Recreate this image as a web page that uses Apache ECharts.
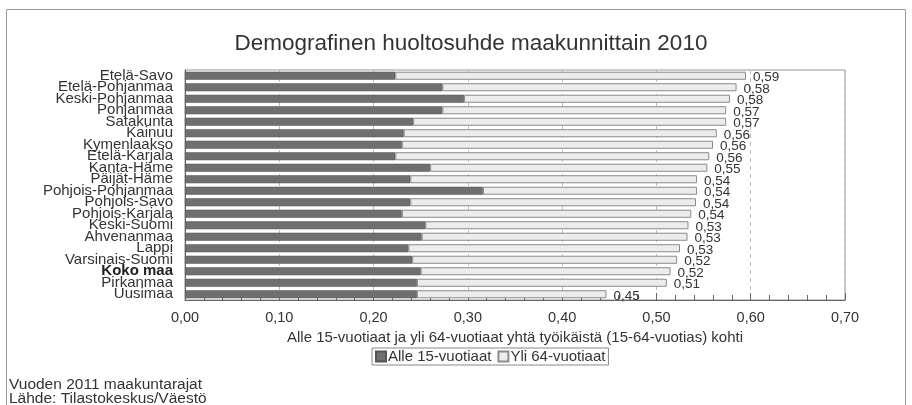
<!DOCTYPE html>
<html>
<head>
<meta charset="utf-8">
<script src="https://cdn.jsdelivr.net/npm/echarts@6/dist/echarts.min.js"></script>
<style>html,body{margin:0;padding:0;background:#fff}#c{width:912px;height:405px}</style>
</head>
<body>
<div id="c"></div>
<script>
const categories = ["Etelä-Savo","Etelä-Pohjanmaa","Keski-Pohjanmaa","Pohjanmaa","Satakunta","Kainuu","Kymenlaakso","Etelä-Karjala","Kanta-Häme","Päijät-Häme","Pohjois-Pohjanmaa","Pohjois-Savo","Pohjois-Karjala","Keski-Suomi","Ahvenanmaa","Lappi","Varsinais-Suomi","Koko maa","Pirkanmaa","Uusimaa"];
const alle15 = [0.223,0.273,0.296,0.273,0.242,0.232,0.230,0.223,0.260,0.239,0.316,0.239,0.230,0.255,0.251,0.237,0.241,0.250,0.246,0.246];
const yli64 = [0.372,0.312,0.282,0.301,0.332,0.332,0.330,0.333,0.294,0.304,0.227,0.303,0.307,0.279,0.282,0.288,0.281,0.265,0.265,0.201];
const totalLabels = ["0,59","0,58","0,58","0,57","0,57","0,56","0,56","0,56","0,55","0,54","0,54","0,54","0,54","0,53","0,53","0,53","0,52","0,52","0,51","0,45"];
const xTicks = ["0,00","0,10","0,20","0,30","0,40","0,50","0,60","0,70"];
const seriesNames = ["Alle 15-vuotiaat","Yli 64-vuotiaat"];
const titleText = "Demografinen huoltosuhde maakunnittain 2010";
const axisName = "Alle 15-vuotiaat ja yli 64-vuotiaat yhtä työikäistä (15-64-vuotias) kohti";
const notes = ["Vuoden 2011 maakuntarajat","Lähde: Tilastokeskus/Väestö"];

const chart = echarts.init(document.getElementById('c'), null, {renderer:'canvas'});
const FONT = 'Liberation Sans, Arial, sans-serif';
chart.setOption({
  animation:false,
  backgroundColor:'#fff',
  textStyle:{fontFamily:FONT},
  graphic:[
    {type:'rect', shape:{x:6.5,y:9.5,width:899,height:420}, style:{fill:'none',stroke:'#9a9a9a',lineWidth:1}, silent:true},
    {type:'text', x:471, y:44, style:{text:titleText, fontSize:22.5, fontFamily:FONT, fill:'#333', textAlign:'center', textVerticalAlign:'middle'}},
    {type:'text', x:9, y:385, style:{text:notes[0], fontSize:15.5, fontFamily:FONT, fill:'#333', textVerticalAlign:'middle'}},
    {type:'text', x:9, y:399, style:{text:notes[1], fontSize:15.5, fontFamily:FONT, fill:'#333', textVerticalAlign:'middle'}}
  ],
  legend:{
    data:seriesNames, left:372, top:348, itemWidth:10, itemHeight:10, itemGap:6,
    borderColor:'#888', borderWidth:1, padding:[1,3,1,3],
    textStyle:{fontSize:15, color:'#333', fontFamily:FONT, padding:[0,0,0,-3]},
    icon:'rect'
  },
  grid:{left:185, right:67, top:70, bottom:105, show:true, borderColor:'#999', borderWidth:1},
  xAxis:{
    type:'value', min:0, max:0.7, interval:0.1,
    axisLine:{show:true, lineStyle:{color:'#666'}},
    axisTick:{show:true, inside:true, length:7, lineStyle:{color:'#666'}},
    minorTick:{show:true, splitNumber:5, length:5, lineStyle:{color:'#666'}},
    splitLine:{show:true, lineStyle:{color:'#bdbdbd', type:[4,4]}},
    axisLabel:{fontSize:14.5, color:'#333', margin:10, formatter:(v)=>xTicks[Math.round(v*10)]},
    name:axisName, nameLocation:'middle', nameGap:28,
    nameTextStyle:{fontSize:15, color:'#333'}
  },
  yAxis:{
    type:'category', data:categories, inverse:true,
    axisLine:{show:true, lineStyle:{color:'#666'}},
    axisTick:{show:false},
    axisLabel:{
      interval:0,
      fontSize:15, color:'#333', margin:12, lineHeight:11,
      formatter:(v)=> v==='Koko maa' ? '{b|'+v+'}' : v,
      rich:{b:{fontWeight:'bold', fontSize:15, color:'#222', lineHeight:11}}
    }
  },
  series:[
    {name:seriesNames[0], type:'bar', stack:'s', data:alle15, barWidth:'70%',
     itemStyle:{color:'#6f6f6f', borderColor:'#555', borderWidth:0.5}},
    {name:seriesNames[1], type:'bar', stack:'s', data:yli64, barWidth:'70%',
     itemStyle:{color:'#ececec', borderColor:'#8a8a8a', borderWidth:1},
     label:{show:true, position:'right', distance:7, fontSize:13.5, color:'#333', offset:[0,2],
       formatter:(p)=>totalLabels[p.dataIndex]}}
  ]
});
</script>
</body>
</html>
